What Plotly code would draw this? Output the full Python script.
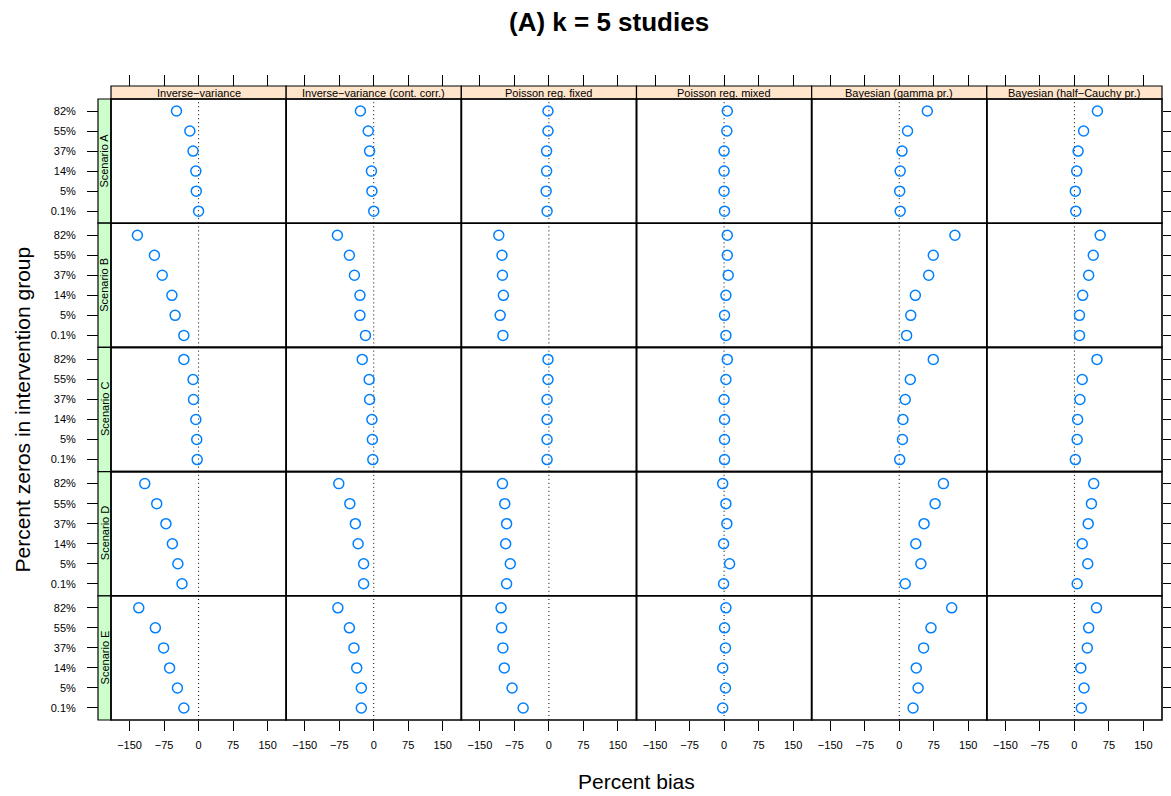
import plotly.graph_objects as go

# ---------------- data ----------------
methods = ["Inverse−variance", "Inverse−variance (cont. corr.)", "Poisson reg. fixed",
           "Poisson reg. mixed", "Bayesian (gamma pr.)", "Bayesian (half−Cauchy pr.)"]
scenarios = ["Scenario A", "Scenario B", "Scenario C", "Scenario D", "Scenario E"]
levels_top_down = ["82%", "55%", "37%", "14%", "5%", "0.1%"]
levels_bottom_up = levels_top_down[::-1]
x_ticks = [-150, -75, 0, 75, 150]

# percent bias, values listed for 82%, 55%, 37%, 14%, 5%, 0.1%
inv_var = {
    "Scenario A": [-48, -19, -12, -6, -5, 0],
    "Scenario B": [-133, -96, -79, -58, -51, -32],
    "Scenario C": [-32, -12, -11, -6, -4, -3],
    "Scenario D": [-117, -91, -71, -57, -45, -36],
    "Scenario E": [-130, -94, -76, -63, -46, -32],
}
inv_var_cc = {
    "Scenario A": [-29, -12, -9, -5, -4, 0],
    "Scenario B": [-79, -53, -42, -30, -30, -18],
    "Scenario C": [-25, -10, -9, -4, -3, -2],
    "Scenario D": [-76, -52, -40, -34, -22, -22],
    "Scenario E": [-78, -53, -43, -37, -27, -27],
}
pois_fixed = {
    "Scenario A": [-2, -2, -5, -5, -6, -4],
    "Scenario B": [-109, -102, -101, -99, -106, -100],
    "Scenario C": [-2, -2, -4, -4, -4, -4],
    "Scenario D": [-101, -96, -92, -94, -84, -92],
    "Scenario E": [-104, -103, -100, -97, -80, -56],
}
pois_mixed = {
    "Scenario A": [7, 6, 0, 0, 0, 1],
    "Scenario B": [7, 7, 9, 4, 1, 4],
    "Scenario C": [7, 4, 0, 1, 1, 1],
    "Scenario D": [-3, 4, 6, -1, 12, -1],
    "Scenario E": [4, 1, 3, -3, 3, -3],
}
bayes_gamma = {
    "Scenario A": [61, 18, 6, 2, 1, 2],
    "Scenario B": [121, 74, 64, 35, 25, 16],
    "Scenario C": [74, 24, 13, 8, 7, 1],
    "Scenario D": [96, 78, 54, 36, 47, 13],
    "Scenario E": [114, 69, 53, 37, 41, 30],
}
bayes_hc = {
    "Scenario A": [50, 20, 8, 5, 2, 3],
    "Scenario B": [56, 41, 31, 18, 11, 11],
    "Scenario C": [49, 17, 12, 7, 6, 2],
    "Scenario D": [42, 37, 30, 17, 29, 6],
    "Scenario E": [48, 31, 28, 14, 21, 15],
}
bias = {
    methods[0]: inv_var, methods[1]: inv_var_cc, methods[2]: pois_fixed,
    methods[3]: pois_mixed, methods[4]: bayes_gamma, methods[5]: bayes_hc,
}

# ---------------- layout geometry ----------------
W, H = 1171, 796
PX0, PX1 = 111, 1162
PY0, PY1 = 99, 720
ncol, nrow = len(methods), len(scenarios)
pw = (PX1 - PX0) / ncol
ph = (PY1 - PY0) / nrow
STRIP_TOP = 86
STRIP_LEFT = 98
FONT = "Liberation Sans, Arial, Helvetica, sans-serif"

fig = go.Figure()
layout = dict(
    width=W, height=H, margin=dict(l=0, r=0, t=0, b=0),
    paper_bgcolor="white", plot_bgcolor="white", showlegend=False,
    font=dict(family=FONT, color="black", size=11),
)
shapes = []
annotations = []

for r, sc in enumerate(scenarios):
    for c, m in enumerate(methods):
        n = r * ncol + c + 1
        xa = "x" if n == 1 else f"x{n}"
        ya = "y" if n == 1 else f"y{n}"
        xk = "xaxis" if n == 1 else f"xaxis{n}"
        yk = "yaxis" if n == 1 else f"yaxis{n}"

        fig.add_trace(go.Scatter(
            x=bias[m][sc], y=levels_top_down, mode="markers", xaxis=xa, yaxis=ya,
            marker=dict(symbol="circle-open", size=10, color="#0080FF",
                        line=dict(width=1.5, color="#0080FF")),
            name=f"{m} / {sc}",
        ))

        xd = [(PX0 + c * pw) / W, (PX0 + (c + 1) * pw) / W]
        yd = [1 - (PY0 + (r + 1) * ph) / H, 1 - (PY0 + r * ph) / H]

        xax = dict(domain=xd, range=[-190.4, 190.4], anchor=ya, showgrid=False,
                   zeroline=False, showline=False, tickvals=x_ticks,
                   ticks="", showticklabels=False, fixedrange=True)
        if r == nrow - 1:
            xax.update(ticks="outside", ticklen=10, tickwidth=1, tickcolor="black",
                       showticklabels=True, tickfont=dict(size=11, family=FONT),
                       ticklabelstandoff=5)
        elif r == 0:
            xax.update(side="top", anchor="free", position=1 - STRIP_TOP / H,
                       ticks="outside", ticklen=11, tickwidth=1, tickcolor="black")
        layout[xk] = xax

        yax = dict(domain=yd, anchor=xa, type="category", categoryorder="array",
                   categoryarray=levels_bottom_up, range=[-0.6, 5.6],
                   showgrid=False, zeroline=False, showline=False,
                   ticks="", showticklabels=False, fixedrange=True)
        if c == 0:
            yax.update(anchor="free", position=STRIP_LEFT / W, ticks="outside",
                       ticklen=11, tickwidth=1, tickcolor="black",
                       showticklabels=True, tickfont=dict(size=11, family=FONT),
                       ticklabelstandoff=9)
        elif c == ncol - 1:
            yax.update(side="right", ticks="outside", ticklen=10, tickwidth=1,
                       tickcolor="black")
        layout[yk] = yax

        # dotted reference line at zero
        shapes.append(dict(type="line", xref=xa, yref=f"{ya} domain", x0=0, x1=0,
                           y0=0, y1=1, line=dict(color="black", width=1, dash="1px,3px"),
                           layer="below"))
        # panel border
        shapes.append(dict(type="rect", xref=f"{xa} domain", yref=f"{ya} domain",
                           x0=0, x1=1, y0=0, y1=1,
                           line=dict(color="black", width=1.6)))

# top strips
for c, m in enumerate(methods):
    x0 = (PX0 + c * pw) / W
    x1 = (PX0 + (c + 1) * pw) / W
    shapes.append(dict(type="rect", xref="paper", yref="paper", x0=x0, x1=x1,
                       y0=1 - PY0 / H, y1=1 - STRIP_TOP / H, fillcolor="#FFE5CC",
                       line=dict(color="black", width=1.2), layer="below"))
    annotations.append(dict(text=m, xref="paper", yref="paper", x=(x0 + x1) / 2,
                            y=1 - (STRIP_TOP + PY0) / 2 / H, showarrow=False,
                            xanchor="center", yanchor="middle",
                            font=dict(size=11, family=FONT, color="black")))
# left strips
for r, sc in enumerate(scenarios):
    y0 = 1 - (PY0 + (r + 1) * ph) / H
    y1 = 1 - (PY0 + r * ph) / H
    shapes.append(dict(type="rect", xref="paper", yref="paper", x0=STRIP_LEFT / W,
                       x1=PX0 / W, y0=y0, y1=y1, fillcolor="#CCFFCC",
                       line=dict(color="black", width=1.2), layer="below"))
    annotations.append(dict(text=sc, xref="paper", yref="paper",
                            x=(STRIP_LEFT + PX0) / 2 / W, y=(y0 + y1) / 2,
                            textangle=-90, showarrow=False, xanchor="center",
                            yanchor="middle",
                            font=dict(size=11, family=FONT, color="black")))

# titles
annotations.append(dict(text="<b>(A) k = 5 studies</b>", xref="paper", yref="paper",
                        x=609 / W, y=1 - 22 / H, showarrow=False, xanchor="center",
                        yanchor="middle",
                        font=dict(size=26, family=FONT, color="black")))
annotations.append(dict(text="Percent bias", xref="paper", yref="paper",
                        x=(PX0 + PX1) / 2 / W, y=1 - 781 / H, showarrow=False,
                        xanchor="center", yanchor="middle",
                        font=dict(size=21, family=FONT, color="black")))
annotations.append(dict(text="Percent zeros in intervention group", xref="paper",
                        yref="paper", x=22 / W, y=1 - (PY0 + PY1) / 2 / H,
                        textangle=-90, showarrow=False, xanchor="center",
                        yanchor="middle",
                        font=dict(size=21, family=FONT, color="black")))

layout["shapes"] = shapes
layout["annotations"] = annotations
fig.update_layout(**layout)
fig.write_html(
    "out.html",
    config={"displayModeBar": False},
    post_script="document.body.style.margin='0';document.body.style.padding='0';"
                "document.body.style.overflow='hidden';",
)
